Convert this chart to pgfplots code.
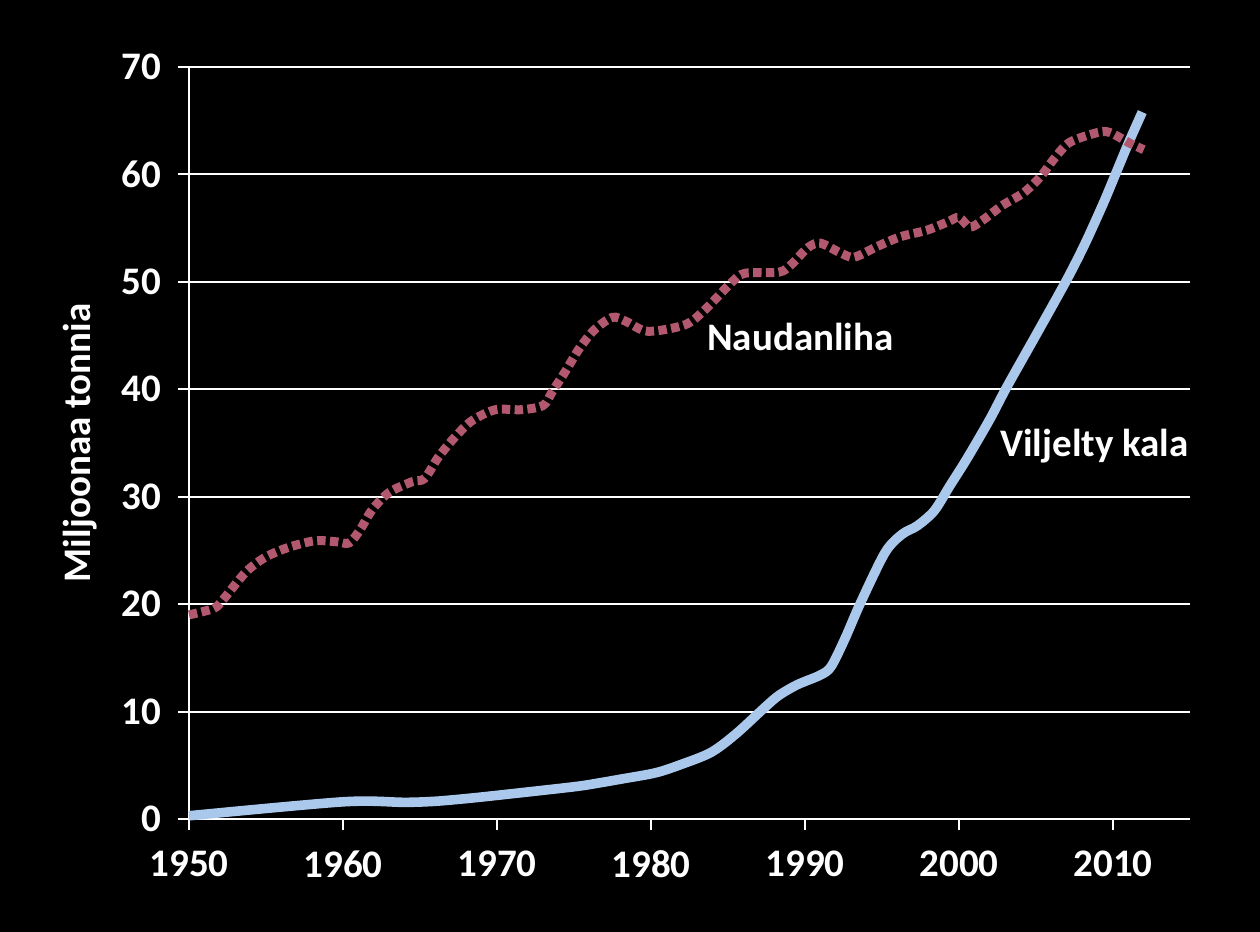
\documentclass[border=0pt]{standalone}
\usepackage{fontspec}
\setmainfont{Carlito}
\usepackage{pgfplots}
\pgfplotsset{compat=1.18}
\usepackage{pgfplotstable}

\definecolor{beef}{RGB}{178,89,111}
\definecolor{fish}{RGB}{170,200,235}

% Naudanliha (beef)
\pgfplotstableread{
year value
1950 19.0
1951.6 19.6
1952.2 20.4
1953.7 23.0
1955 24.4
1956.5 25.3
1958.2 25.9
1959.6 25.8
1960.4 25.7
1961.1 26.9
1961.9 28.8
1963 30.4
1964.5 31.4
1965.3 31.7
1966.2 33.7
1967.3 35.6
1968.4 37.1
1969.9 38.1
1971.6 38.1
1973 38.5
1973.6 39.8
1974.5 41.8
1975.3 43.7
1976.3 45.5
1977.5 46.7
1978.4 46.3
1979.8 45.4
1982.2 46.0
1983.5 47.4
1985.2 49.9
1986.1 50.8
1988.3 50.9
1989.1 51.6
1990.2 53.2
1991 53.6
1992.3 52.7
1993.2 52.3
1994.7 53.3
1996.2 54.2
1997.9 54.8
1999.3 55.6
2000 56.0
2000.7 55.1
2001.5 55.7
2002.8 57.1
2004.2 58.3
2005.3 59.8
2006.2 61.5
2007.2 63.0
2009 63.9
2009.8 63.9
2011.1 62.9
2012 62.3
}\beeftable

% Viljelty kala (farmed fish)
\pgfplotstableread{
year value
1950 0.3
1960 1.6
1964 1.55
1966 1.65
1968 1.9
1970 2.2
1975 3.0
1976.6 3.35
1978 3.7
1980.3 4.3
1982 5.1
1983.9 6.2
1985.5 7.9
1987.4 10.4
1988.3 11.5
1989.5 12.5
1991 13.4
1991.7 14.2
1992.6 16.8
1993.6 20.1
1995.2 24.8
1996.3 26.5
1997.3 27.3
1998.4 28.7
1999.4 31.0
2000.5 33.5
2002 37.2
2003.1 40.2
2005.1 45.3
2007 50.2
2008.2 53.6
2009.4 57.4
2010.1 59.8
2011 62.9
2011.9 65.8
}\fishtable

\begin{document}
\begin{tikzpicture}
\fill[black] (-94.5pt,-56.5pt) rectangle (535.5pt,409.5pt);
\useasboundingbox (-94.5pt,-56.5pt) rectangle (535.5pt,409.5pt);
\begin{axis}[
    at={(0,0)}, anchor=south west,
    scale only axis,
    width=500.5pt, height=376pt,
    xmin=1950, xmax=2015,
    ymin=0, ymax=70,
    axis x line*=bottom,
    axis y line*=left,
    axis line style={white, line width=1pt, -},
    xtick={1950,1960,...,2010},
    ytick={0,10,...,70},
    tick align=outside,
    major tick length=5.5pt,
    tick style={white, line width=1pt},
    ymajorgrids,
    grid style={white, line width=1pt},
    /pgf/number format/assume math mode=true,
    /pgf/number format/1000 sep={},
    ticklabel style={font=\fontsize{19.5}{23}\selectfont\bfseries, text=white},
    yticklabel style={xshift=-5pt},
    xticklabel style={yshift=-7pt},
    ylabel={Miljoonaa tonnia},
    every axis y label/.style={at={(axis description cs:-0.109,0.5)}, rotate=90, anchor=center},
    label style={font=\fontsize{19.5}{23}\selectfont\bfseries, text=white},
    clip=false,
]
\addplot[fish, line width=4.8pt, smooth, tension=0.5] table[x=year, y=value] {\fishtable};
\addplot[beef, line width=4.5pt, smooth, tension=0.5, line cap=butt, dash pattern=on 4.2pt off 2.2pt] table[x=year, y=value] {\beeftable};
\node[text=white, font=\fontsize{19.5}{23}\selectfont\bfseries] at (axis cs:1989.7,44.9) {Naudanliha};
\node[text=white, font=\fontsize{19.5}{23}\selectfont\bfseries] at (axis cs:2008.8,34.7) {Viljelty kala};
\end{axis}
\end{tikzpicture}
\end{document}
